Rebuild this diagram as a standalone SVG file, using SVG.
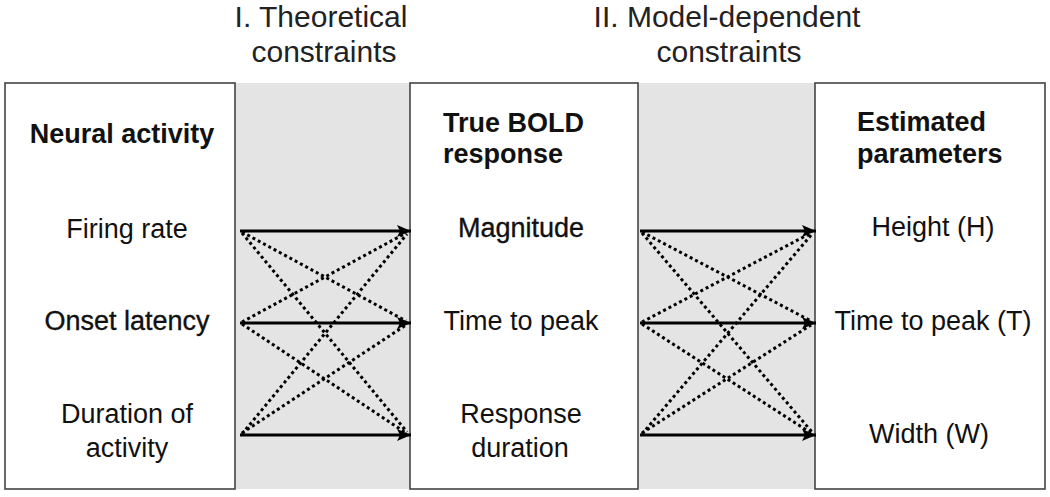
<svg xmlns="http://www.w3.org/2000/svg" width="1050" height="497" viewBox="0 0 1050 497">
<defs>
<marker id="ah" markerUnits="userSpaceOnUse" markerWidth="15" markerHeight="13" refX="14" refY="6.5" orient="auto">
<path d="M0,0.5 L14,6.5 L0,12.5 L3,6.5 z" fill="#000"/>
</marker>
<style>
.box{fill:#fff;stroke:#444;stroke-width:1.6}
.band{fill:#e4e4e4}
.t{font-family:"Liberation Sans",Arial,sans-serif;font-size:27px;fill:#111;text-anchor:middle}
.b{font-weight:bold}
.l{text-anchor:start}
.fb{stroke:#111;stroke-width:0.35}
.h{font-family:"Liberation Sans",Arial,sans-serif;font-size:30px;fill:#222;text-anchor:middle}
.solid{stroke:#000;stroke-width:3;fill:none;marker-end:url(#ah)}
.dot{stroke:#000;stroke-width:3;fill:none;stroke-dasharray:3 3}
</style>
</defs>
<rect width="1050" height="497" fill="#fff"/>
<g id="headers">
<text class="h" x="321" y="27">I. Theoretical</text>
<text class="h" x="324" y="62">constraints</text>
<text class="h" x="727" y="27">II. Model-dependent</text>
<text class="h" x="729" y="62">constraints</text>
</g>
<g id="bands">
<rect class="band" x="235" y="83" width="175" height="406"/>
<rect class="band" x="638" y="83" width="177" height="406"/>
</g>
<g id="neural">
<rect class="box" x="5" y="83" width="230" height="406"/>
<text class="t b" x="122" y="143">Neural activity</text>
<text class="t" x="127" y="238">Firing rate</text>
<text class="t fb" x="127" y="330">Onset latency</text>
<text class="t" x="127" y="423">Duration of</text>
<text class="t" x="127" y="457">activity</text>
</g>
<g id="bold">
<rect class="box" x="410" y="83" width="228" height="406"/>
<text class="t b l" x="443" y="132">True BOLD</text>
<text class="t b l" x="443" y="163">response</text>
<text class="t fb" x="521" y="237">Magnitude</text>
<text class="t" x="521" y="330">Time to peak</text>
<text class="t" x="521" y="423">Response</text>
<text class="t" x="520" y="457">duration</text>
</g>
<g id="params">
<rect class="box" x="815" y="83" width="230" height="406"/>
<text class="t b l" x="857" y="131">Estimated</text>
<text class="t b l" x="857" y="163">parameters</text>
<text class="t" x="933" y="236">Height (H)</text>
<text class="t" x="933" y="330">Time to peak (T)</text>
<text class="t" x="929" y="443">Width (W)</text>
</g>
<g id="connectors">
<line class="solid" x1="240" y1="231" x2="411" y2="231"/>
<line class="solid" x1="240" y1="323" x2="411" y2="323"/>
<line class="solid" x1="240" y1="435" x2="411" y2="435"/>
<line class="dot" x1="242" y1="232" x2="406" y2="321"/>
<line class="dot" x1="242" y1="233" x2="407" y2="432"/>
<line class="dot" x1="242" y1="322" x2="406" y2="233"/>
<line class="dot" x1="242" y1="324" x2="406" y2="433"/>
<line class="dot" x1="242" y1="434" x2="407" y2="234"/>
<line class="dot" x1="242" y1="433" x2="406" y2="325"/>
<line class="solid" x1="640" y1="231" x2="816" y2="231"/>
<line class="solid" x1="640" y1="323" x2="816" y2="323"/>
<line class="solid" x1="640" y1="435" x2="816" y2="435"/>
<line class="dot" x1="642" y1="232" x2="811" y2="321"/>
<line class="dot" x1="642" y1="233" x2="812" y2="432"/>
<line class="dot" x1="642" y1="322" x2="811" y2="233"/>
<line class="dot" x1="642" y1="324" x2="811" y2="433"/>
<line class="dot" x1="642" y1="434" x2="812" y2="234"/>
<line class="dot" x1="642" y1="433" x2="811" y2="325"/>
</g>
</svg>
